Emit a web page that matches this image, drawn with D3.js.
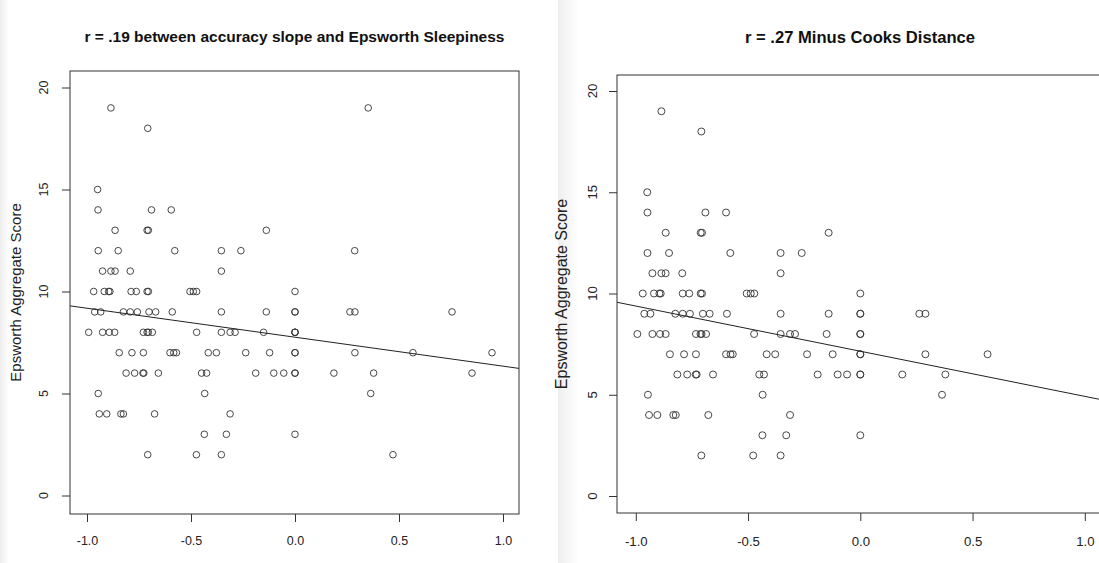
<!DOCTYPE html>
<html>
<head>
<meta charset="utf-8">
<script src="https://cdn.jsdelivr.net/npm/d3@7/dist/d3.min.js"></script>
<style>
    body { margin: 0; background: #fff; }
    svg { display: block; font-family: "Liberation Sans", Arial, sans-serif; }
    .title { font-weight: bold; fill: #111; }
    .tick-label { fill: #222; }
    .axis-title { fill: #222; }
</style>
</head>
<body>
<div id="chart"></div>
<script>
// Tick values shared by both panels
const xTicks = [-1.0, -0.5, 0.0, 0.5, 1.0];
const yTicks = [0, 5, 10, 15, 20];
const yLabel = "Epsworth Aggregate Score";

// Left panel: all participants, [accuracy slope, Epsworth score]
const leftTitle = "r = .19 between accuracy slope and Epsworth Sleepiness";
const leftPoints = [
    [-0.885, 19], [0.352, 19],
    [-0.708, 18],
    [-0.949, 15],
    [-0.947, 14], [-0.690, 14], [-0.595, 14],
    [-0.865, 13], [-0.711, 13], [-0.705, 13], [-0.138, 13],
    [-0.946, 12], [-0.850, 12], [-0.578, 12], [-0.354, 12], [-0.260, 12], [0.287, 12],
    [-0.925, 11], [-0.885, 11], [-0.865, 11], [-0.792, 11], [-0.354, 11],
    [-0.968, 10], [-0.917, 10], [-0.896, 10], [-0.890, 10], [-0.788, 10], [-0.763, 10],
    [-0.711, 10], [-0.705, 10], [-0.505, 10], [-0.489, 10], [-0.473, 10], [0, 10],
    [-0.963, 9], [-0.934, 9], [-0.825, 9], [-0.792, 9], [-0.758, 9], [-0.702, 9], [-0.670, 9],
    [-0.590, 9], [-0.354, 9], [-0.138, 9], [0, 9], [0, 9], [0.264, 9], [0.288, 9], [0.755, 9],
    [-0.992, 8], [-0.925, 8], [-0.893, 8], [-0.867, 8], [-0.729, 8], [-0.711, 8], [-0.705, 8],
    [-0.686, 8], [-0.473, 8], [-0.354, 8], [-0.312, 8], [-0.288, 8], [-0.151, 8], [0, 8], [0, 8], [0, 8],
    [-0.845, 7], [-0.784, 7], [-0.729, 7], [-0.601, 7], [-0.583, 7], [-0.570, 7], [-0.417, 7],
    [-0.378, 7], [-0.237, 7], [-0.122, 7], [0, 7], [0, 7], [0.288, 7], [0.567, 7], [0.947, 7],
    [-0.812, 6], [-0.771, 6], [-0.731, 6], [-0.727, 6], [-0.657, 6], [-0.449, 6], [-0.425, 6],
    [-0.189, 6], [-0.102, 6], [-0.054, 6], [0, 6], [0, 6], [0.187, 6], [0.378, 6], [0.851, 6],
    [-0.946, 5], [-0.434, 5], [0.364, 5],
    [-0.941, 4], [-0.905, 4], [-0.837, 4], [-0.825, 4], [-0.675, 4], [-0.312, 4],
    [-0.436, 3], [-0.330, 3], [0, 3],
    [-0.708, 2], [-0.474, 2], [-0.354, 2], [0.471, 2]
];
// fitted line: [intercept, slope]
const leftFit = [7.76, -1.42];

// Right panel: influential points removed
const rightTitle = "r = .27 Minus Cooks Distance";
const rightPoints = [
    [-0.886, 19],
    [-0.708, 18],
    [-0.949, 15],
    [-0.948, 14], [-0.690, 14], [-0.598, 14],
    [-0.867, 13], [-0.711, 13], [-0.705, 13], [-0.141, 13],
    [-0.948, 12], [-0.852, 12], [-0.579, 12], [-0.355, 12], [-0.261, 12],
    [-0.926, 11], [-0.886, 11], [-0.867, 11], [-0.793, 11], [-0.355, 11],
    [-0.969, 10], [-0.919, 10], [-0.895, 10], [-0.889, 10], [-0.791, 10], [-0.762, 10],
    [-0.711, 10], [-0.705, 10], [-0.506, 10], [-0.488, 10], [-0.472, 10], [0, 10],
    [-0.962, 9], [-0.935, 9], [-0.824, 9], [-0.791, 9], [-0.759, 9], [-0.701, 9], [-0.671, 9],
    [-0.594, 9], [-0.355, 9], [-0.141, 9], [0, 9], [0, 9], [0.263, 9], [0.290, 9],
    [-0.993, 8], [-0.926, 8], [-0.892, 8], [-0.867, 8], [-0.732, 8], [-0.712, 8], [-0.707, 8],
    [-0.687, 8], [-0.473, 8], [-0.355, 8], [-0.313, 8], [-0.291, 8], [-0.150, 8], [0, 8], [0, 8],
    [-0.848, 7], [-0.785, 7], [-0.732, 7], [-0.598, 7], [-0.578, 7], [-0.568, 7], [-0.417, 7],
    [-0.379, 7], [-0.237, 7], [-0.123, 7], [0, 7], [0, 7], [0.290, 7], [0.567, 7],
    [-0.815, 6], [-0.771, 6], [-0.733, 6], [-0.729, 6], [-0.656, 6], [-0.450, 6], [-0.429, 6],
    [-0.190, 6], [-0.101, 6], [-0.059, 6], [0, 6], [0, 6], [0.187, 6], [0.379, 6],
    [-0.946, 5], [-0.435, 5], [0.364, 5],
    [-0.941, 4], [-0.904, 4], [-0.833, 4], [-0.822, 4], [-0.677, 4], [-0.313, 4],
    [-0.436, 3], [-0.330, 3], [0, 3],
    [-0.708, 2], [-0.477, 2], [-0.355, 2]
];
const rightFit = [7.15, -2.23];

const svg = d3.select("#chart")
    .append("svg")
    .attr("width", 1099)
    .attr("height", 563);

// faint shadow at the left edge of each screenshot
const defs = svg.append("defs");
const shade = defs.append("linearGradient").attr("id", "shade");
shade.append("stop").attr("offset", 0).attr("stop-color", "#eeeeee");
shade.append("stop").attr("offset", 1).attr("stop-color", "#ffffff");
svg.append("rect").attr("x", 0).attr("y", 0).attr("width", 9).attr("height", 563).attr("fill", "url(#shade)");
svg.append("rect").attr("x", 558).attr("y", 0).attr("width", 20).attr("height", 563).attr("fill", "url(#shade)");

class scatterPanel {
    constructor(_config, _points, _fit, _title) {
        this.config = _config;
        this.points = _points;
        this.fit = _fit;
        this.title = _title;
        this.initVis();
    }

    initVis() {
        let vis = this;
        const c = vis.config;

        vis.xScale = d3.scaleLinear().domain([-1, 1]).range(c.xRange);
        vis.yScale = d3.scaleLinear().domain([0, 20]).range(c.yRange);

        vis.g = svg.append("g");

        // clip for the fitted line
        defs.append("clipPath")
            .attr("id", `clip-${c.id}`)
            .append("rect")
            .attr("x", c.box[0])
            .attr("y", c.box[1])
            .attr("width", c.box[2] - c.box[0])
            .attr("height", c.box[3] - c.box[1]);

        // title
        vis.g.append("text")
            .attr("class", "title")
            .attr("x", (c.box[0] + c.box[2]) / 2)
            .attr("y", 37)
            .attr("dy", ".35em")
            .attr("text-anchor", "middle")
            .style("font-size", `${c.titleSize}px`)
            .text(vis.title);

        // points
        vis.g.append("g")
            .selectAll("circle")
            .data(vis.points)
            .join("circle")
            .attr("cx", d => vis.xScale(d[0]))
            .attr("cy", d => vis.yScale(d[1]))
            .attr("r", c.radius)
            .attr("fill", "none")
            .attr("stroke", "#333")
            .attr("stroke-width", 0.9);

        // regression line, spanning the plot region
        const x0 = vis.xScale.invert(c.box[0]);
        const x1 = vis.xScale.invert(c.box[2]);
        vis.g.append("line")
            .attr("clip-path", `url(#clip-${c.id})`)
            .attr("x1", vis.xScale(x0))
            .attr("y1", vis.yScale(vis.fit[0] + vis.fit[1] * x0))
            .attr("x2", vis.xScale(x1))
            .attr("y2", vis.yScale(vis.fit[0] + vis.fit[1] * x1))
            .attr("stroke", "#222")
            .attr("stroke-width", 1);

        // box
        vis.g.append("rect")
            .attr("x", c.box[0])
            .attr("y", c.box[1])
            .attr("width", c.box[2] - c.box[0])
            .attr("height", c.box[3] - c.box[1])
            .attr("fill", "none")
            .attr("stroke", "#333")
            .attr("stroke-width", 1);

        // x axis
        const xAxis = d3.axisBottom(vis.xScale)
            .tickValues(xTicks)
            .tickSize(8)
            .tickFormat(d3.format(".1f"));
        const xg = vis.g.append("g")
            .attr("transform", `translate(0,${c.box[3]})`)
            .call(xAxis);
        xg.select(".domain").remove();
        xg.selectAll("line").attr("stroke", "#333");
        xg.selectAll("text")
            .attr("class", "tick-label")
            .attr("y", 541 - c.box[3])
            .attr("dy", ".35em")
            .attr("font-family", null)
            .attr("font-size", null)
            .attr("fill", null)
            .style("font-size", `${c.tickSize}px`)
            .text(d => d3.format(".1f")(d).replace("−", "-"));

        // y axis with rotated labels
        const yAxis = d3.axisLeft(vis.yScale)
            .tickValues(yTicks)
            .tickSize(8);
        const yg = vis.g.append("g")
            .attr("transform", `translate(${c.box[0]},0)`)
            .call(yAxis);
        yg.select(".domain").remove();
        yg.selectAll("line").attr("stroke", "#333");
        yg.selectAll("text").remove();
        vis.g.append("g")
            .selectAll("text")
            .data(yTicks)
            .join("text")
            .attr("class", "tick-label")
            .attr("text-anchor", "middle")
            .attr("dy", ".35em")
            .style("font-size", `${c.tickSize}px`)
            .attr("transform", d => `translate(${c.yTickX},${vis.yScale(d)}) rotate(-90)`)
            .text(d => d);

        vis.g.append("text")
            .attr("class", "axis-title")
            .attr("text-anchor", "middle")
            .attr("dy", ".35em")
            .style("font-size", `${c.labelSize}px`)
            .attr("transform", `translate(${c.yLabelX},${(c.box[1] + c.box[3]) / 2}) rotate(-90)`)
            .text(yLabel);
    }
}

new scatterPanel({
    id: "left",
    box: [70, 71, 519, 514],
    xRange: [87, 503],
    yRange: [495.5, 87.5],
    yTickX: 44,
    yLabelX: 16,
    titleSize: 15.5,
    tickSize: 12.5,
    labelSize: 15,
    radius: 3.3
}, leftPoints, leftFit, leftTitle);

new scatterPanel({
    id: "right",
    box: [617, 75, 1103, 513],
    xRange: [635.8, 1084.8],
    yRange: [496, 91],
    yTickX: 592,
    yLabelX: 561,
    titleSize: 16.6,
    tickSize: 13.2,
    labelSize: 16,
    radius: 3.5
}, rightPoints, rightFit, rightTitle);
</script>
</body>
</html>
